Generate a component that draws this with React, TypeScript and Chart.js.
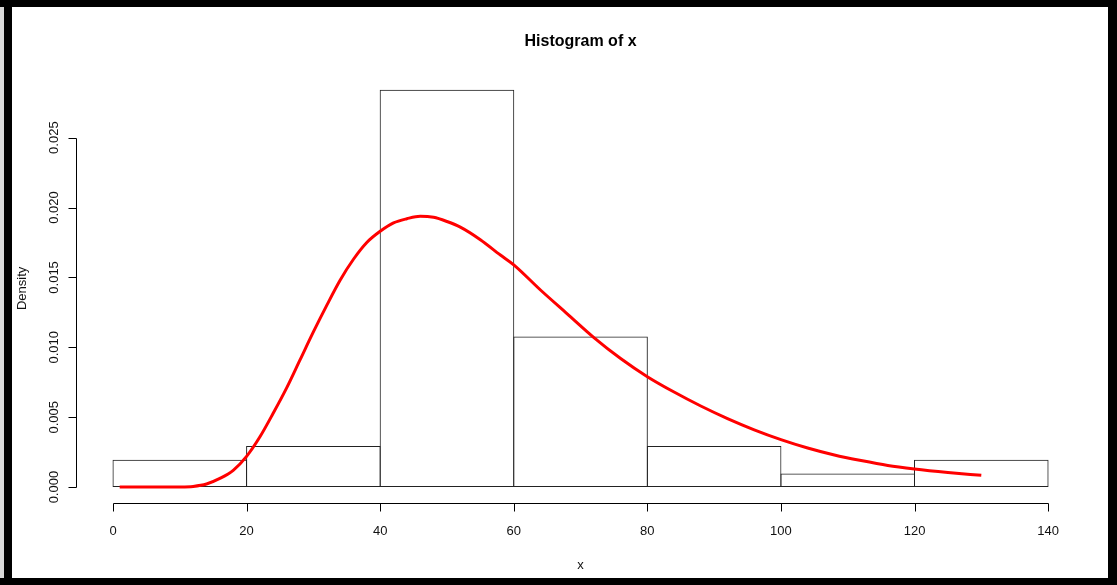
import React, { useEffect, useRef } from "react";
import { Chart, registerables } from "chart.js";

Chart.register(...registerables);

// Histogram bins (centres) and densities
const binCenters = [10, 30, 50, 70, 90, 110, 130];
const binDensity = [0.00196, 0.00294, 0.02843, 0.01078, 0.00294, 0.00098, 0.00196];

// Density curve
const curveX = [1, 5, 10, 12, 14, 16, 18, 20, 22, 24, 26, 28, 30, 32, 34, 36, 38, 40, 42, 44, 46, 48, 50, 52, 55, 58, 60, 64, 68, 72, 76, 80, 84, 88, 92, 96, 100, 104, 108, 112, 116, 120, 125, 130];
const curveY = [0, 0, 0.00001, 0.00005, 0.00022, 0.00062, 0.0012, 0.0022, 0.0036, 0.0053, 0.0071, 0.0091, 0.0111, 0.013, 0.0148, 0.0163, 0.0175, 0.0183, 0.0189, 0.0192, 0.01938, 0.0193, 0.0190, 0.0186, 0.0177, 0.0166, 0.0159, 0.0141, 0.0124, 0.0107, 0.0092, 0.0079, 0.0068, 0.0058, 0.0049, 0.0041, 0.0034, 0.0028, 0.0023, 0.0019, 0.00155, 0.0013, 0.00105, 0.00084];

// Axis ticks
const xTicks = [0, 20, 40, 60, 80, 100, 120, 140];
const yTicks = [0, 0.005, 0.01, 0.015, 0.02, 0.025];
const yTickLabels = ["0.000", "0.005", "0.010", "0.015", "0.020", "0.025"];

const titleText = "Histogram of x";
const xTitle = "x";
const yTitle = "Density";

const FONT = "'Liberation Sans', Arial, sans-serif";

const rAxes = {
  id: "rAxes",
  afterDraw(chart: any) {
    const { ctx, chartArea: ca } = chart;
    const xs = chart.scales.x;
    const ys = chart.scales.y;
    ctx.save();
    ctx.strokeStyle = "#000";
    ctx.fillStyle = "#111";
    ctx.lineWidth = 1;

    // x axis
    const yb = Math.round(ca.bottom) + 0.5;
    ctx.beginPath();
    ctx.moveTo(Math.round(xs.getPixelForValue(xTicks[0])) + 0.5, yb);
    ctx.lineTo(Math.round(xs.getPixelForValue(xTicks[xTicks.length - 1])) + 0.5, yb);
    xTicks.forEach((v) => {
      const px = Math.round(xs.getPixelForValue(v)) + 0.5;
      ctx.moveTo(px, yb);
      ctx.lineTo(px, yb + 8);
    });
    ctx.stroke();
    ctx.font = `13px ${FONT}`;
    ctx.textAlign = "center";
    ctx.textBaseline = "alphabetic";
    xTicks.forEach((v) => {
      const px = xs.getPixelForValue(v);
      ctx.fillText(String(v), px, yb + 31);
    });

    // y axis
    const xl = Math.round(ca.left) + 0.5;
    ctx.beginPath();
    ctx.moveTo(xl, Math.round(ys.getPixelForValue(yTicks[0])) + 0.5);
    ctx.lineTo(xl, Math.round(ys.getPixelForValue(yTicks[yTicks.length - 1])) + 0.5);
    yTicks.forEach((v) => {
      const py = Math.round(ys.getPixelForValue(v)) + 0.5;
      ctx.moveTo(xl, py);
      ctx.lineTo(xl - 8, py);
    });
    ctx.stroke();
    yTicks.forEach((v, i) => {
      const py = ys.getPixelForValue(v);
      ctx.save();
      ctx.translate(xl - 19, py);
      ctx.rotate(-Math.PI / 2);
      ctx.fillText(yTickLabels[i], 0, 0);
      ctx.restore();
    });

    // titles
    const cx = (ca.left + ca.right) / 2;
    const cy = (ca.top + ca.bottom) / 2;
    ctx.font = `bold 16px ${FONT}`;
    ctx.fillStyle = "#000";
    ctx.fillText(titleText, cx, 38.5);
    ctx.font = `13px ${FONT}`;
    ctx.fillStyle = "#111";
    ctx.fillText(xTitle, cx, 562);
    ctx.save();
    ctx.translate(14, cy);
    ctx.rotate(-Math.PI / 2);
    ctx.fillText(yTitle, 0, 0);
    ctx.restore();
    ctx.restore();
  },
};

export default function App() {
  const ref = useRef<HTMLCanvasElement>(null);
  useEffect(() => {
    if (!ref.current) return;
    const chart = new Chart(ref.current, {
      type: "bar",
      data: {
        datasets: [
          {
            type: "line",
            data: curveX.map((x, i) => ({ x, y: curveY[i] })),
            borderColor: "#ff0000",
            borderWidth: 3,
            pointRadius: 0,
            fill: false,
            cubicInterpolationMode: "monotone",
            order: 1,
          } as any,
          {
            type: "bar",
            data: binCenters.map((x, i) => ({ x, y: binDensity[i] })),
            backgroundColor: "rgba(255,255,255,0)",
            borderColor: "#222",
            borderWidth: 1,
            borderSkipped: false,
            barPercentage: 1.0075,
            categoryPercentage: 1,
            order: 2,
          } as any,
        ],
      },
      options: {
        animation: false,
        responsive: false,
        devicePixelRatio: 1,
        layout: { padding: { left: 63.6, top: 66.8, right: 22.5, bottom: 75 } },
        plugins: { legend: { display: false }, title: { display: false }, tooltip: { enabled: false } },
        scales: {
          x: { type: "linear", min: -5.6, max: 145.6, offset: false, display: false },
          y: { type: "linear", min: -0.0011372, max: 0.0295672, display: false },
        },
      },
      plugins: [rAxes],
    });
    return () => chart.destroy();
  }, []);

  return (
    <div style={{ position: "fixed", left: 0, top: 0, width: 1117, height: 585, background: "#000" }}>
      <div style={{ position: "absolute", left: 0, top: 7, width: 4, height: 571, background: "#d9d9d9" }} />
      <div style={{ position: "absolute", left: 12, top: 7, width: 1096, height: 571, background: "#fff" }}>
        <canvas ref={ref} width={1096} height={571} style={{ display: "block" }} />
      </div>
    </div>
  );
}
